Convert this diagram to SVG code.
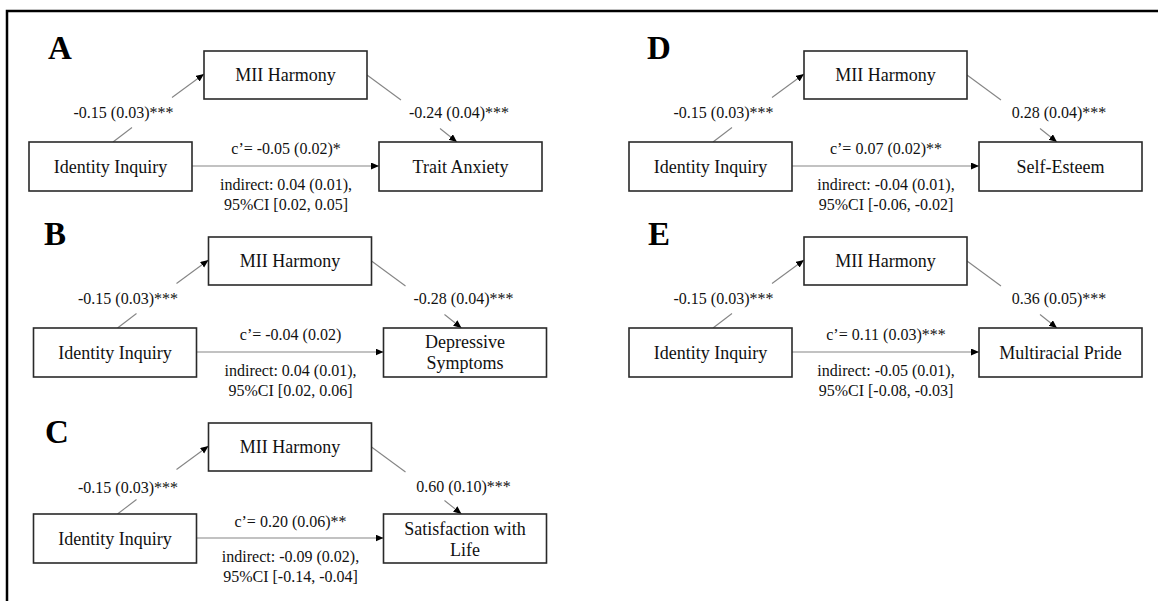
<svg xmlns="http://www.w3.org/2000/svg" width="1158" height="601" viewBox="0 0 1158 601">
  <style>
    .box { fill: #fff; stroke: #2a2a2a; stroke-width: 1.6; }
    .node { font-family: "Liberation Serif", "Times New Roman", serif; font-size: 18px; fill: #111; text-anchor: middle; }
    .lbl { font-family: "Liberation Serif", "Times New Roman", serif; font-size: 16px; fill: #111; text-anchor: middle; }
    .panel { font-family: "Liberation Serif", "Times New Roman", serif; font-size: 33px; font-weight: bold; fill: #000; }
    .edge { fill: none; stroke: #858585; stroke-width: 1.1; }
  </style>
  <defs>
    <marker id="arrow" markerUnits="userSpaceOnUse" markerWidth="9" markerHeight="8" refX="8" refY="3.5" orient="auto">
      <path d="M0,0 L8,3.5 L0,7 Z" fill="#000"/>
    </marker>
  </defs>
  <rect width="1158" height="601" fill="#fff"/>
  <!-- outer frame: top and left rules only -->
  <path d="M7,601 V11 H1158" fill="none" stroke="#000" stroke-width="2.5"/>

  <!-- panel letters -->
  <g id="letters">
    <text class="panel" x="48" y="59">A</text>
    <text class="panel" x="44" y="245">B</text>
    <text class="panel" x="45" y="443">C</text>
    <text class="panel" x="647" y="59">D</text>
    <text class="panel" x="648" y="245">E</text>
  </g>

  <!-- Panel A: Trait Anxiety -->
  <g id="panel-a">
    <g id="connectors-a">
      <line class="edge" x1="113" y1="142" x2="132" y2="127.5"/>
      <line class="edge" x1="172" y1="97.5" x2="204" y2="74" marker-end="url(#arrow)"/>
      <line class="edge" x1="367" y1="75" x2="401" y2="100"/>
      <line class="edge" x1="440" y1="128.5" x2="457" y2="142" marker-end="url(#arrow)"/>
      <line class="edge" x1="192" y1="166" x2="379" y2="166" marker-end="url(#arrow)"/>
      <text class="lbl" x="123.5" y="118">-0.15 (0.03)***</text>
      <text class="lbl" x="459" y="118">-0.24 (0.04)***</text>
      <text class="lbl" x="286" y="154">c’= -0.05 (0.02)*</text>
      <text class="lbl" x="286" y="190">indirect: 0.04 (0.01),</text>
      <text class="lbl" x="286" y="210">95%CI [0.02, 0.05]</text>
    </g>
    <g id="a-mediator"><rect class="box" x="204" y="51" width="163" height="48"/><text class="node" x="285.5" y="81">MII Harmony</text></g>
    <g id="a-predictor"><rect class="box" x="29" y="142" width="163" height="49"/><text class="node" x="110.5" y="173">Identity Inquiry</text></g>
    <g id="a-outcome"><rect class="box" x="379" y="142" width="163" height="49"/><text class="node" x="460.5" y="173">Trait Anxiety</text></g>
  </g>

  <!-- Panel B: Depressive Symptoms -->
  <g id="panel-b" transform="translate(4.5,186)">
    <g id="connectors-b">
      <line class="edge" x1="113" y1="142" x2="132" y2="127.5"/>
      <line class="edge" x1="172" y1="97.5" x2="204" y2="74" marker-end="url(#arrow)"/>
      <line class="edge" x1="367" y1="75" x2="401" y2="100"/>
      <line class="edge" x1="440" y1="128.5" x2="457" y2="142" marker-end="url(#arrow)"/>
      <line class="edge" x1="192" y1="166" x2="379" y2="166" marker-end="url(#arrow)"/>
      <text class="lbl" x="123.5" y="118">-0.15 (0.03)***</text>
      <text class="lbl" x="459" y="118">-0.28 (0.04)***</text>
      <text class="lbl" x="286" y="154">c’= -0.04 (0.02)</text>
      <text class="lbl" x="286" y="190">indirect: 0.04 (0.01),</text>
      <text class="lbl" x="286" y="210">95%CI [0.02, 0.06]</text>
    </g>
    <g id="b-mediator"><rect class="box" x="204" y="51" width="163" height="48"/><text class="node" x="285.5" y="81">MII Harmony</text></g>
    <g id="b-predictor"><rect class="box" x="29" y="142" width="163" height="49"/><text class="node" x="110.5" y="173">Identity Inquiry</text></g>
    <g id="b-outcome"><rect class="box" x="379" y="142" width="163" height="49"/><text class="node" x="460.5" y="162">Depressive</text><text class="node" x="460.5" y="183">Symptoms</text></g>
  </g>

  <!-- Panel C: Satisfaction with Life -->
  <g id="panel-c" transform="translate(4.5,372)">
    <g id="connectors-c">
      <line class="edge" x1="113" y1="142" x2="132" y2="127.5"/>
      <line class="edge" x1="172" y1="97.5" x2="204" y2="74" marker-end="url(#arrow)"/>
      <line class="edge" x1="367" y1="75" x2="401" y2="100"/>
      <line class="edge" x1="440" y1="128.5" x2="457" y2="142" marker-end="url(#arrow)"/>
      <line class="edge" x1="192" y1="166" x2="379" y2="166" marker-end="url(#arrow)"/>
      <text class="lbl" x="123.5" y="121">-0.15 (0.03)***</text>
      <text class="lbl" x="459" y="120">0.60 (0.10)***</text>
      <text class="lbl" x="286" y="155">c’= 0.20 (0.06)**</text>
      <text class="lbl" x="286" y="190">indirect: -0.09 (0.02),</text>
      <text class="lbl" x="286" y="210">95%CI [-0.14, -0.04]</text>
    </g>
    <g id="c-mediator"><rect class="box" x="204" y="51" width="163" height="48"/><text class="node" x="285.5" y="81">MII Harmony</text></g>
    <g id="c-predictor"><rect class="box" x="29" y="142" width="163" height="49"/><text class="node" x="110.5" y="173">Identity Inquiry</text></g>
    <g id="c-outcome"><rect class="box" x="379" y="142" width="163" height="49"/><text class="node" x="460.5" y="163">Satisfaction with</text><text class="node" x="460.5" y="184">Life</text></g>
  </g>

  <!-- Panel D: Self-Esteem -->
  <g id="panel-d" transform="translate(600,0)">
    <g id="connectors-d">
      <line class="edge" x1="113" y1="142" x2="132" y2="127.5"/>
      <line class="edge" x1="172" y1="97.5" x2="204" y2="74" marker-end="url(#arrow)"/>
      <line class="edge" x1="367" y1="75" x2="401" y2="100"/>
      <line class="edge" x1="440" y1="128.5" x2="457" y2="142" marker-end="url(#arrow)"/>
      <line class="edge" x1="192" y1="166" x2="379" y2="166" marker-end="url(#arrow)"/>
      <text class="lbl" x="123.5" y="118">-0.15 (0.03)***</text>
      <text class="lbl" x="459" y="118">0.28 (0.04)***</text>
      <text class="lbl" x="286" y="154">c’= 0.07 (0.02)**</text>
      <text class="lbl" x="286" y="190">indirect: -0.04 (0.01),</text>
      <text class="lbl" x="286" y="210">95%CI [-0.06, -0.02]</text>
    </g>
    <g id="d-mediator"><rect class="box" x="204" y="51" width="163" height="48"/><text class="node" x="285.5" y="81">MII Harmony</text></g>
    <g id="d-predictor"><rect class="box" x="29" y="142" width="163" height="49"/><text class="node" x="110.5" y="173">Identity Inquiry</text></g>
    <g id="d-outcome"><rect class="box" x="379" y="142" width="163" height="49"/><text class="node" x="460.5" y="173">Self-Esteem</text></g>
  </g>

  <!-- Panel E: Multiracial Pride -->
  <g id="panel-e" transform="translate(600,186)">
    <g id="connectors-e">
      <line class="edge" x1="113" y1="142" x2="132" y2="127.5"/>
      <line class="edge" x1="172" y1="97.5" x2="204" y2="74" marker-end="url(#arrow)"/>
      <line class="edge" x1="367" y1="75" x2="401" y2="100"/>
      <line class="edge" x1="440" y1="128.5" x2="457" y2="142" marker-end="url(#arrow)"/>
      <line class="edge" x1="192" y1="166" x2="379" y2="166" marker-end="url(#arrow)"/>
      <text class="lbl" x="123.5" y="118">-0.15 (0.03)***</text>
      <text class="lbl" x="459" y="118">0.36 (0.05)***</text>
      <text class="lbl" x="286" y="154">c’= 0.11 (0.03)***</text>
      <text class="lbl" x="286" y="190">indirect: -0.05 (0.01),</text>
      <text class="lbl" x="286" y="210">95%CI [-0.08, -0.03]</text>
    </g>
    <g id="e-mediator"><rect class="box" x="204" y="51" width="163" height="48"/><text class="node" x="285.5" y="81">MII Harmony</text></g>
    <g id="e-predictor"><rect class="box" x="29" y="142" width="163" height="49"/><text class="node" x="110.5" y="173">Identity Inquiry</text></g>
    <g id="e-outcome"><rect class="box" x="379" y="142" width="163" height="49"/><text class="node" x="460.5" y="173">Multiracial Pride</text></g>
  </g>
</svg>
